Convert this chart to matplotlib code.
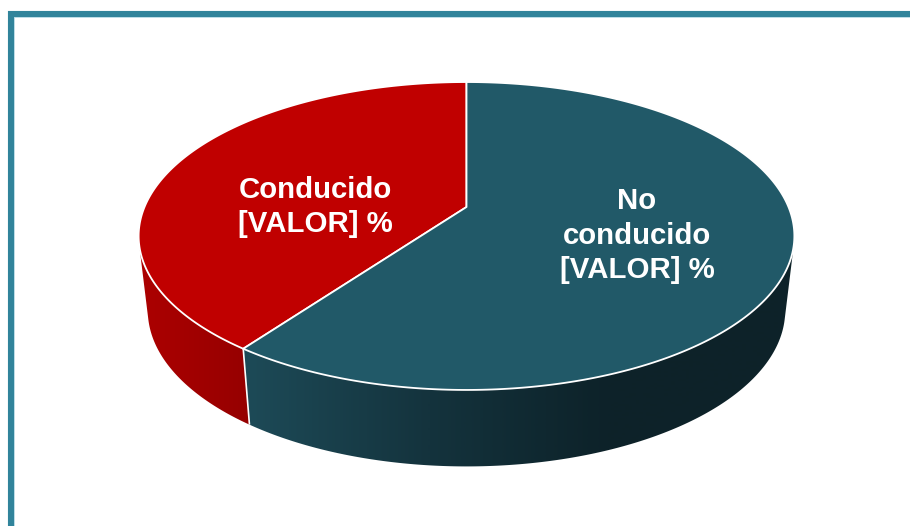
import numpy as np
import matplotlib
matplotlib.use("Agg")
import matplotlib.pyplot as plt
from matplotlib.colors import LinearSegmentedColormap
from matplotlib.patches import Polygon

# Data
categories = ["Conducido", "No conducido"]
values = [40, 60]
labels = ["Conducido\n[VALOR] %", "No\nconducido\n[VALOR] %"]

# Styles
top_colors = ["#C00000", "#215968"]
side_maps = [
    LinearSegmentedColormap.from_list("r", ["#AC0000", "#960000"]),
    LinearSegmentedColormap.from_list("t", ["#1D4A57", "#14333D", "#0D2229", "#0E2329"]),
]
side_ranges = [(140, 248), (248, 790)]
label_pos = [(315, 207), (637, 235.5)]

W, H = 910, 526
fig = plt.figure(figsize=(W / 100, H / 100), dpi=100, facecolor="white")
ax = fig.add_axes([0, 0, 1, 1])

CX, K = 466.5, 0.1883


def project(phi, b, a, y0):
    """Perspective projection of a disc point; phi counter-clockwise from the top."""
    u, v = -np.sin(phi), np.cos(phi)
    w = 1 + K * v
    return CX + b * u / w, y0 - a * v / w


def top_pt(phi):
    return project(phi, 322, 148.5, 207)


def bot_pt(phi):
    return project(phi, 313, 150.5, 281)


def hull(points):
    pts = sorted(set(map(tuple, np.round(points, 3))))

    def half(seq):
        out = []
        for p in seq:
            while len(out) >= 2 and ((out[-1][0] - out[-2][0]) * (p[1] - out[-2][1])
                                     - (out[-1][1] - out[-2][1]) * (p[0] - out[-2][0])) <= 0:
                out.pop()
            out.append(p)
        return out[:-1]

    return half(pts) + half(pts[::-1])


# Frame
for col, lw in (("#C5E3EC", 5.0), ("#31849B", 4.4)):
    ax.plot([11, 11, W + 10], [H + 10, 14, 14], color=col, lw=lw,
            solid_joinstyle="miter", solid_capstyle="butt", zorder=1)

fractions = np.cumsum([0] + values) / sum(values) * 2 * np.pi

# Side walls: horizontal gradient clipped to the hull of each slice's wall
xgrid = np.arange(0, W + 1)
for i in range(len(values)):
    phis = np.linspace(fractions[i], fractions[i + 1], 400)
    tx, ty = top_pt(phis)
    bx, by = bot_pt(phis)
    outline = hull(np.column_stack([np.r_[tx, bx], np.r_[ty, by]]))
    x0, x1 = side_ranges[i]
    grad = np.clip((xgrid - x0) / (x1 - x0), 0, 1)[None, :]
    im = ax.imshow(grad, cmap=side_maps[i], vmin=0, vmax=1, extent=(0, W, H, 0),
                   aspect="auto", zorder=2 + i * 0.1, interpolation="bilinear")
    clip = Polygon(outline, closed=True, transform=ax.transData, facecolor="none", edgecolor="none")
    ax.add_patch(clip)
    im.set_clip_path(clip)

# Boundary line on the side wall
tx, ty = top_pt(fractions[1])
bx, by = bot_pt(fractions[1])
ax.plot([tx, bx], [ty, by], color="white", lw=1.2, zorder=3, solid_capstyle="butt")

# Top faces
apex = (CX, 207)
for i in range(len(values)):
    phis = np.linspace(fractions[i], fractions[i + 1], 300)
    xs, ys = top_pt(phis)
    pts = [apex] + list(zip(xs, ys))
    ax.add_patch(Polygon(pts, closed=True, facecolor=top_colors[i], edgecolor="white",
                         lw=1.3, joinstyle="round", zorder=4))

# Labels
for txt, (x, y) in zip(labels, label_pos):
    ax.text(x, y, txt, color="white", ha="center", va="center", ma="center",
            fontsize=21.2, fontweight="bold", family="Liberation Sans",
            linespacing=1.28, zorder=5)

ax.set_xlim(0, W)
ax.set_ylim(H, 0)
ax.axis("off")
fig.savefig("out.png", dpi=100, facecolor="white")
